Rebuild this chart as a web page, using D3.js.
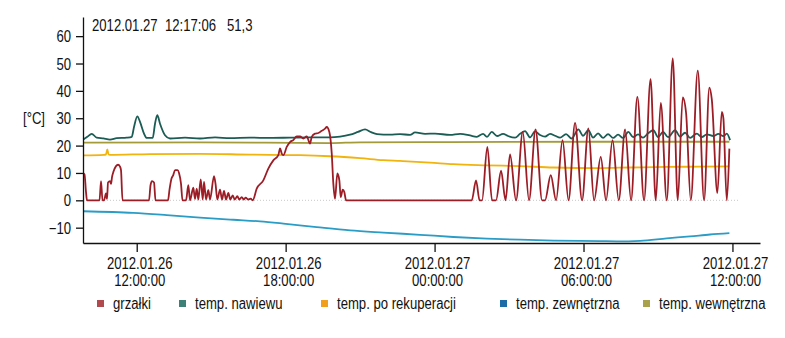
<!DOCTYPE html>
<html>
<head>
<meta charset="utf-8">
<script src="https://cdn.jsdelivr.net/npm/d3@7"></script>
<style>
  body { margin: 0; background: #fff; }
  svg text { font-family: "Liberation Sans", Arial, sans-serif; font-size: 16px; fill: #111; }
</style>
</head>
<body>
<div id="chart"></div>
<script>
// time values are hours counted from 2012-01-26 00:00
const startHour = 9.836;
const endHour = 37.11;
const cursorHour = 36.285;

const headerDate = "2012.01.27";
const headerTime = "12:17:06";
const headerValue = "51,3";
const yLabel = "[°C]";
const yTicks = [-10, 0, 10, 20, 30, 40, 50, 60];

const seriesNames = ["grzałki", "temp. nawiewu", "temp. po rekuperacji", "temp. zewnętrzna", "temp. wewnętrzna"];

const grzalkiT = [9.836, 9.897, 9.957, 9.998, 10.501, 10.562, 10.622, 10.683, 10.763, 10.803, 10.844, 10.924, 10.965, 11.005, 11.065, 11.166, 11.247, 11.327, 11.367, 11.428,
  12.496, 12.556, 12.616, 12.697, 12.757, 13.261, 13.322, 13.402, 13.463, 13.543, 13.644, 13.704, 13.785, 13.845,
  13.986, 14.079, 14.147, 14.280, 14.349, 14.417, 14.482, 14.579, 14.659, 14.712, 14.792, 14.885, 14.953, 15.114, 15.175, 15.247, 15.356, 15.437, 15.517, 15.598, 15.691, 15.771, 15.868, 15.948, 16.053, 16.134, 16.230, 16.311, 16.392, 16.484, 16.593,
  16.674, 16.835, 17.101, 17.302, 17.504, 17.705, 17.774, 17.842, 17.907, 18.044, 18.176, 18.309, 18.446, 18.579, 18.712, 18.849, 18.982, 19.051, 19.184, 19.317, 19.454, 19.587, 19.655, 19.760, 19.857, 19.921, 19.990, 20.082, 20.163, 20.219, 20.300, 20.364, 20.433,
  25.497, 25.670, 25.812, 25.912, 26.126, 26.315, 26.476, 26.678, 26.859, 27.040, 27.282, 27.552, 27.806, 28.068, 28.330, 28.451, 28.680, 28.894, 29.155, 29.397, 29.659, 29.941, 30.195, 30.425, 30.695, 30.908, 31.170, 31.420, 31.674, 31.916, 32.169, 32.439, 32.701, 32.911, 33.112, 33.354, 33.595, 33.797, 33.998, 34.131, 34.321, 34.603, 34.857, 35.070, 35.167, 35.393, 35.570, 35.634, 35.771, 35.876];
const grzalkiV = [10, 9.5, 3, 0, 0, 7, 0, 0, 2.5, 0.5, 6.5, 7, 6, 8.5, 10.5, 12.5, 13, 12.3, 11, 0,
  0, 5.5, 7, 6.5, 0, 0, 4, 8, 9, 11, 11, 10, 6, 0,
  0, 5.5, 0, 4.6, 0.5, 4.3, 0.3, 7.6, 0.3, 6.7, 0.3, 3.7, 0.3, 8.8, 6, 0.3, 3.9, 0.3, 3.4, 0.3, 2.7, 0.3, 1.8, 0.3, 1.5, 0.3, 1.2, 0.3, 1, 0.3, 0.6,
  0, 4.3, 7.3, 11.6, 14.6, 16.5, 19, 17.1, 16.5, 19.5, 21.3, 22, 23.4, 23.4, 22.6, 23.4, 20.7, 23.2, 24.4, 24.6, 25.4, 26.2, 26.8, 25, 17.1, 6.1, 0.6, 9.8, 7.3, 1.2, 3.9, 3, 0,
  0, 7.3, 0, 0, 19.5, 0, 0, 10.8, 0, 16.8, 0, 25, 0, 25.9, 0, 0, 9.2, 0, 22, 0, 28.3, 0, 26.3, 0, 15.9, 0, 22, 0, 25.9, 0, 37.8, 0, 44.3, 0, 35.6, 0, 51.9, 0, 37.6, 32, 0, 47.4, 0, 41.2, 37, 2.7, 32.3, 30, 0, 18.9];

const nawiewuT = [9.848, 10.010, 10.187, 10.388, 10.654, 10.924, 11.194, 11.597, 11.799, 11.891, 12.024, 12.133, 12.294, 12.403, 12.645, 12.737, 12.830, 12.939, 13.140, 13.342,
  13.946, 14.550, 15.155, 15.759, 16.565, 17.371, 18.176, 18.982, 19.788, 20.191, 20.594, 20.916, 21.198, 21.440, 21.682, 22.205, 22.608, 23.011, 23.213, 23.616, 24.018, 24.623, 25.026, 25.429,
  25.699, 25.953, 26.113, 26.303, 26.517, 26.758, 26.960, 27.242, 27.443, 27.645, 27.846, 28.048, 28.249, 28.451, 28.652, 28.854, 29.055, 29.297, 29.526, 29.792, 29.982, 30.195, 30.384, 30.586, 30.787, 30.989,
  31.190, 31.392, 31.593, 31.807, 31.996, 32.198, 32.399, 32.601, 32.814, 33.003, 33.205, 33.406, 33.688, 33.890, 34.091, 34.293, 34.563, 34.764, 34.966, 35.232, 35.433, 35.634, 35.771, 35.904];
const nawiewuV = [22.2, 23.2, 24.3, 22.9, 22.6, 22.2, 22.7, 22.9, 23.2, 26.8, 30.7, 28.7, 24.4, 22.8, 22.8, 28, 31.1, 28, 23.8, 22.6,
  22.9, 22.6, 23.0, 22.7, 22.9, 22.8, 22.9, 23.0, 23.0, 23.3, 24, 25, 25.9, 24.9, 24.2, 24.0, 24.2, 23.9, 24.8, 24.3, 24.4, 23.9, 24.3, 23.7,
  23.2, 24.3, 23.2, 25.0, 23.5, 24.3, 23.5, 22.9, 24.3, 25.3, 23.0, 25.2, 23.9, 23.3, 24.3, 23.6, 22.9, 24.2, 22.6, 25.9, 23.6, 25.6, 22.9, 24.5, 22.8, 24.2,
  22.8, 24.0, 22.8, 25.0, 23.1, 24.1, 22.9, 24.5, 25.6, 23.1, 25.0, 23.1, 25.6, 23.3, 24.7, 22.8, 24.4, 23.1, 24.1, 23.5, 24.3, 23.5, 24.4, 22.0];

const rekuperacjiT = [9.836, 10.683, 10.763, 10.816, 10.864, 10.924, 12.536, 14.550, 16.565, 18.579, 19.788, 20.997, 21.935, 22.608, 23.817, 24.756, 26.102, 27.443, 28.785, 30.667, 31.875, 33.354, 34.697, 35.876];
const rekuperacjiV = [16.4, 16.6, 16.8, 18.6, 16.8, 16.6, 16.9, 17.0, 16.7, 16.5, 16.1, 15.4, 14.7, 14.4, 13.8, 13.2, 12.8, 12.5, 12.0, 11.8, 12.0, 12.2, 12.3, 12.4];

const zewnetrznaT = [9.848, 11.863, 13.209, 14.550, 15.892, 16.968, 17.907, 19.252, 20.594, 21.935, 23.414, 24.756, 26.102, 27.443, 28.785, 30.667, 31.339, 32.278, 33.354, 34.293, 35.099, 35.876];
const zewnetrznaV = [-4.0, -4.6, -5.4, -6.3, -7.1, -7.7, -8.5, -9.8, -11.0, -11.8, -12.6, -13.4, -14.0, -14.4, -14.7, -14.9, -15.0, -14.8, -13.9, -13.2, -12.5, -12.0];

const wewnetrznaT = [9.836, 14.550, 19.788, 20.997, 24.623, 30.667, 35.876];
const wewnetrznaV = [21.1, 21.2, 20.9, 21.2, 21.3, 21.4, 21.4];

const lineColors = ["#9c1d26", "#1b5d55", "#f1b30e", "#2a9cc6", "#a39a3c"];
const legendColors = ["#b04a4e", "#3d8078", "#f2a01c", "#1c6ca8", "#a9a14c"];
const legendX = [97, 179, 321, 500, 643];

const width = 785;
const height = 338;
const margin = {top: 17, right: 25, bottom: 95, left: 83};
const narrow = 0.82; // squeeze Liberation Sans to look like a narrow face

const base = new Date(2012, 0, 26, 0, 0, 0);
const toDate = h => new Date(base.getTime() + h * 3600 * 1000);

const svg = d3.select("#chart")
    .append("svg")
    .attr("width", width)
    .attr("height", height);

// text helper: placed at (px, py) and squeezed horizontally
function label(parent, px, py, str, anchor) {
    return parent.append("text")
        .attr("transform", `translate(${px},${py}) scale(${narrow},1)`)
        .attr("text-anchor", anchor || "start")
        .style("white-space", "pre")
        .text(str);
}

const x = d3.scaleTime()
    .domain([toDate(startHour), toDate(endHour)])
    .range([margin.left, width - margin.right]);

const y = d3.scaleLinear()
    .domain([-15.6, 67])
    .range([height - margin.bottom, margin.top]);

// zero reference line
svg.append("line")
    .attr("x1", x(toDate(startHour)))
    .attr("x2", x(toDate(cursorHour)))
    .attr("y1", y(0))
    .attr("y2", y(0))
    .attr("stroke", "#c8c8c8")
    .attr("stroke-width", 1)
    .attr("stroke-dasharray", "1,2");

const series = [
    {t: wewnetrznaT, v: wewnetrznaV, color: lineColors[4]},
    {t: zewnetrznaT, v: zewnetrznaV, color: lineColors[3]},
    {t: rekuperacjiT, v: rekuperacjiV, color: lineColors[2]},
    {t: nawiewuT, v: nawiewuV, color: lineColors[1]},
    {t: grzalkiT, v: grzalkiV, color: lineColors[0]}
];

const line = d3.line()
    .x(d => x(toDate(d[0])))
    .y(d => y(d[1]))
    .curve(d3.curveMonotoneX);

series.forEach(s => {
    svg.append("path")
        .datum(s.t.map((t, i) => [t, s.v[i]]))
        .attr("d", line)
        .attr("fill", "none")
        .attr("stroke", s.color)
        .attr("stroke-width", 1.8)
        .attr("stroke-linejoin", "round");
});

// axes
const yAxis = d3.axisLeft(y)
    .tickValues(yTicks)
    .tickSize(7)
    .tickSizeOuter(0)
    .tickFormat("");

const gy = svg.append("g")
    .attr("transform", `translate(${margin.left},0)`)
    .call(yAxis);

gy.selectAll(".tick").each(function(d) {
    label(d3.select(this), -12, 5.5, d3.format("d")(d).replace("-", "\u2212"), "end");
});

const xAxis = d3.axisBottom(x)
    .ticks(d3.timeHour.every(6))
    .tickSize(9)
    .tickSizeOuter(0)
    .tickFormat("");

const gx = svg.append("g")
    .attr("transform", `translate(0,${height - margin.bottom})`)
    .call(xAxis);

const dayFmt = d3.timeFormat("%Y.%m.%d");
const timeFmt = d3.timeFormat("%H:%M:%S");

gx.selectAll(".tick").each(function(d) {
    label(d3.select(this), 2.5, 25.5, dayFmt(d), "middle");
    label(d3.select(this), 2.5, 42.5, timeFmt(d), "middle");
});

[gx, gy].forEach(g => {
    g.select(".domain").attr("stroke", "#111").attr("stroke-width", 1.3);
    g.selectAll(".tick line").attr("stroke", "#111").attr("stroke-width", 1.3);
    g.selectAll("text").attr("font-size", null).attr("font-family", null).attr("fill", "#111");
});

label(svg, 23, y(30) + 6, yLabel);
label(svg, 92, 31, headerDate + "  " + headerTime + "   " + headerValue);

// legend
const legend = svg.append("g");
seriesNames.forEach((name, i) => {
    legend.append("rect")
        .attr("x", legendX[i])
        .attr("y", 300)
        .attr("width", 7)
        .attr("height", 7)
        .attr("fill", legendColors[i]);
    label(legend, legendX[i] + 16, 309, name);
});
</script>
</body>
</html>
